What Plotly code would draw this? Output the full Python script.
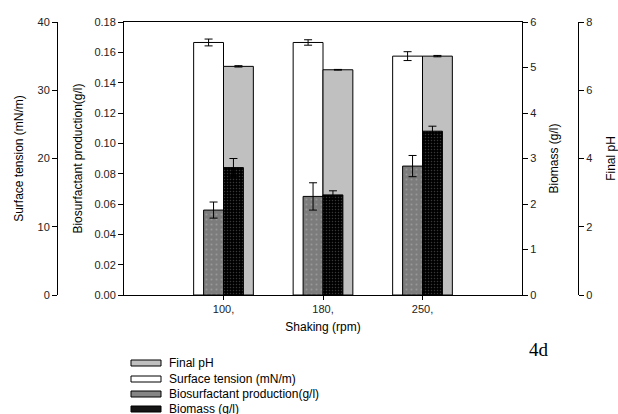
import plotly.graph_objects as go

categories = ["100,", "180,", "250,"]
surface_tension = [37.0, 37.0, 35.0]
surface_tension_err = [0.5, 0.4, 0.65]
final_ph = [6.70, 6.60, 7.00]
final_ph_err = [0.02, 0.01, 0.02]
biosurfactant = [0.056, 0.065, 0.085]
biosurfactant_err = [0.0053, 0.009, 0.007]
biomass = [2.80, 2.20, 3.60]
biomass_err = [0.20, 0.09, 0.11]

names = {
    "ph": "Final pH",
    "st": "Surface tension (mN/m)",
    "bs": "Biosurfactant production(g/l)",
    "bm": "Biomass (g/l)",
}

W, H = 618, 414
PL, PR, PT, PB = 57, 578, 22, 295      # paper box (outer axes)
XL, XR = 124, 522                       # plot area x
FONT = "Liberation Sans, Arial, sans-serif"

def px(x):
    return (x - PL) / (PR - PL)

def py(y):
    return (PB - y) / (PB - PT)

def err(a):
    return dict(type="data", array=a, visible=True, color="black", thickness=1, width=4)

fig = go.Figure()
fig.add_trace(go.Bar(
    name=names["st"], x=categories, y=surface_tension, yaxis="y",
    offset=-0.3, width=0.3, marker=dict(color="white", line=dict(color="black", width=1)),
    error_y=err(surface_tension_err), showlegend=False))
fig.add_trace(go.Bar(
    name=names["ph"], x=categories, y=final_ph, yaxis="y2",
    offset=0, width=0.3, marker=dict(color="#c0c0c0", line=dict(color="black", width=1)),
    error_y=err(final_ph_err), showlegend=False))
fig.add_trace(go.Bar(
    name=names["bs"], x=categories, y=biosurfactant, yaxis="y3",
    offset=-0.2, width=0.2,
    marker=dict(color="#7c7c7c", line=dict(color="black", width=1),
                pattern=dict(shape=".", fgcolor="#b4b4b4", bgcolor="#7c7c7c", size=5, solidity=0.12)),
    error_y=err(biosurfactant_err), showlegend=False))
fig.add_trace(go.Bar(
    name=names["bm"], x=categories, y=biomass, yaxis="y4",
    offset=0, width=0.2,
    marker=dict(color="black", line=dict(color="black", width=1),
                pattern=dict(shape=".", fgcolor="#707070", bgcolor="black", size=3, solidity=0.2)),
    error_y=err(biomass_err), showlegend=False))

axis_common = dict(showgrid=False, zeroline=False, showline=True, linecolor="black", linewidth=1,
                   ticks="outside", ticklen=5, tickcolor="black", tickwidth=1,
                   tickfont=dict(family=FONT, size=11, color="#222"))
title_font = dict(family=FONT, size=12, color="black")

# manual legend (wide flat swatches as in the reference)
legend_rows = [("ph", "#c0c0c0", 363), ("st", "white", 379), ("bs", "#858585", 394), ("bm", "#151515", 409)]
shapes, annotations = [], []
for key, col, yy in legend_rows:
    shapes.append(dict(type="rect", xref="paper", yref="paper", x0=px(131), x1=px(161),
                       y0=py(yy + 3), y1=py(yy - 3), fillcolor=col,
                       line=dict(color="black", width=1), layer="above"))
    annotations.append(dict(text=names[key], xref="paper", yref="paper", x=px(167), y=py(yy),
                            xanchor="left", yanchor="middle", showarrow=False,
                            font=dict(family=FONT, size=12, color="black")))
annotations.append(dict(text="4d", xref="paper", yref="paper", x=px(539), y=py(349),
                        xanchor="center", yanchor="middle", showarrow=False,
                        font=dict(family="Liberation Serif, Times New Roman, serif", size=19, color="black")))

fig.update_layout(
    width=W, height=H, barmode="overlay",
    margin=dict(l=PL, r=W - PR, t=PT, b=H - PB, autoexpand=False),
    paper_bgcolor="white", plot_bgcolor="white",
    font=dict(family=FONT, size=11, color="black"),
    showlegend=False,
    xaxis=dict(domain=[px(XL), px(XR)], type="category", range=[-1, 3], showgrid=False, zeroline=False,
               showline=True, mirror=True, linecolor="black", linewidth=1,
               ticks="outside", ticklen=4, tickcolor="black",
               tickfont=dict(family=FONT, size=11, color="#222"),
               title=dict(text="Shaking (rpm)", font=title_font, standoff=8)),
    yaxis=dict(range=[0, 40], dtick=10, anchor="free", position=0, side="left",
               title=dict(text="Surface tension (mN/m)", font=title_font, standoff=10), **axis_common),
    yaxis2=dict(range=[0, 8], dtick=2, overlaying="y", side="right", anchor="free", position=1,
                title=dict(text="Final pH", font=title_font, standoff=15), **axis_common),
    yaxis3=dict(range=[0, 0.18], dtick=0.02, tickformat=".2f", overlaying="y", side="left", anchor="x",
                title=dict(text="Biosurfactant production(g/l)", font=title_font, standoff=9), **axis_common),
    yaxis4=dict(range=[0, 6], dtick=1, overlaying="y", side="right", anchor="x",
                title=dict(text="Biomass (g/l)", font=title_font, standoff=14), **axis_common),
    shapes=shapes,
    annotations=annotations,
)
fig.write_html("out.html")
